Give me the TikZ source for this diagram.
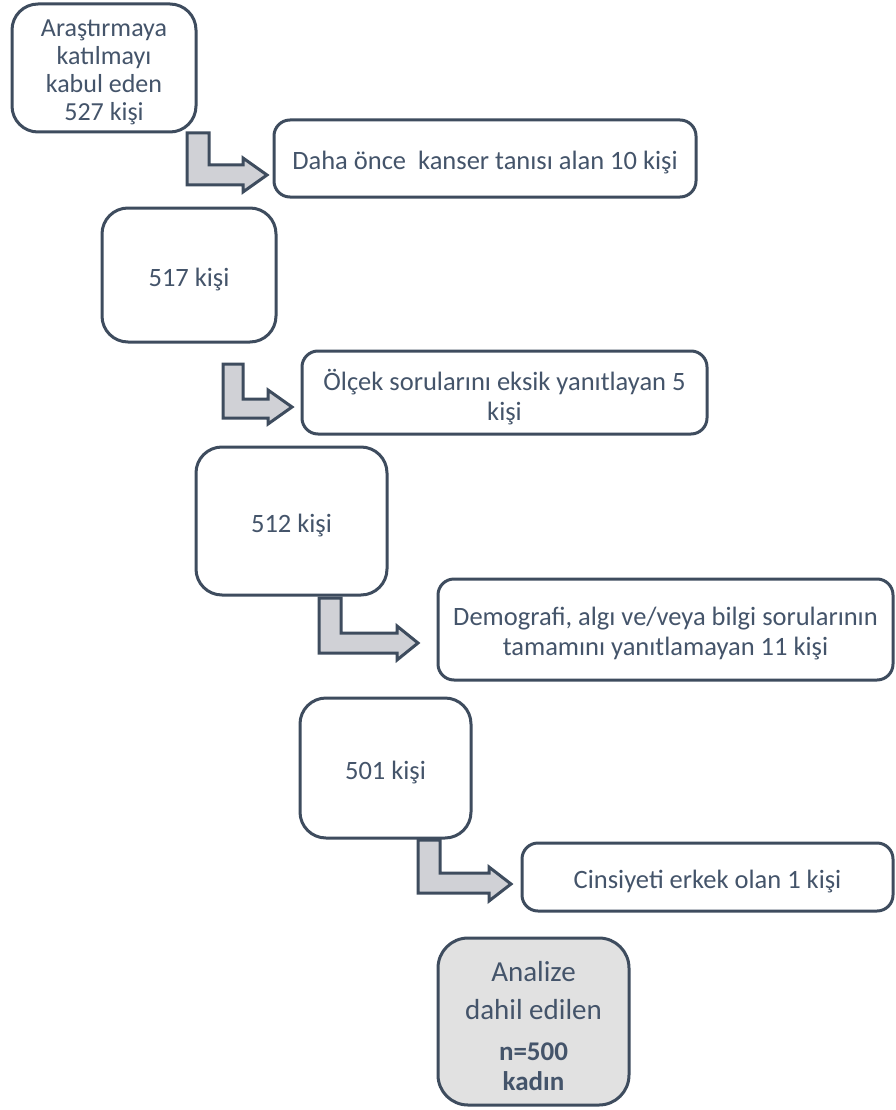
\documentclass[tikz,border=0pt]{standalone}
\usepackage{fontspec}
\setmainfont{Carlito}
\definecolor{edge}{HTML}{3E4C5E}
\definecolor{ink}{HTML}{44546A}
\definecolor{arrowfill}{HTML}{D0D1D6}
\definecolor{resultfill}{HTML}{E1E1E1}
\begin{document}
\begin{tikzpicture}[x=1pt,y=-1pt,
  box/.style={draw=edge, line width=3pt, rounded corners=#1, fill=white,
    inner sep=0pt},
  box/.default=16pt,
  % box text sits slightly below the geometric centre
  boxtext/.style={text=ink, align=center, inner sep=0pt, yshift=-4.5pt,
    font=\fontsize{26.5}{30}\selectfont},
  bentarrow/.style={draw=edge, fill=arrowfill, line width=3pt, line join=miter}]
\useasboundingbox (0,0) rectangle (895,1110);

% stages of the sample
\node[box=26pt, minimum width=184pt, minimum height=128pt,
      label={[boxtext, font=\fontsize{26}{28}\selectfont]center:Araştırmaya\\katılmayı\\kabul eden\\527 kişi}]
  (b1) at (104,68) {};
\node[box, minimum width=422pt, minimum height=77pt,
      label={[boxtext]center:Daha önce~ kanser tanısı alan 10 kişi}]
  (b2) at (485,158.5) {};
\node[box=26pt, minimum width=174pt, minimum height=134pt,
      label={[boxtext]center:517 kişi}]
  (b3) at (189,275) {};
\node[box, minimum width=405pt, minimum height=83pt,
      label={[boxtext]center:Ölçek sorularını eksik yanıtlayan 5\\kişi}]
  (b4) at (504.5,392.5) {};
\node[box=26pt, minimum width=191pt, minimum height=148pt,
      label={[boxtext]center:512 kişi}]
  (b5) at (291.5,521) {};
\node[box, minimum width=455pt, minimum height=101pt,
      label={[boxtext]center:Demografi, algı ve/veya bilgi sorularının\\tamamını yanıtlamayan 11 kişi}]
  (b6) at (665.5,629.5) {};
\node[box=26pt, minimum width=171pt, minimum height=140pt,
      label={[boxtext]center:501 kişi}]
  (b7) at (385.5,768) {};
\node[box, minimum width=371pt, minimum height=68pt,
      label={[boxtext]center:Cinsiyeti erkek olan 1 kişi}]
  (b8) at (707.5,877) {};
\node[box=30pt, fill=resultfill, minimum width=191pt, minimum height=167pt,
      label={[boxtext]center:{\fontsize{29}{30}\selectfont Analize}\\[8pt]
        {\fontsize{29}{30}\selectfont dahil edilen}\\[11pt]
        {\fontsize{27}{30}\selectfont\bfseries n=500}\\
        {\fontsize{27}{30}\selectfont\bfseries kadın}}]
  (b9) at (533.5,1021.5) {};

% bent block arrows leading to the excluded groups
\draw[bentarrow] (187,133) -- (209,133) -- (209,165) -- (243,165) -- (243,158)
  -- (267,175) -- (243,192) -- (243,185) -- (187,185) -- cycle;
\draw[bentarrow] (223,364) -- (243,364) -- (243,399) -- (268,399) -- (268,390)
  -- (292,407) -- (268,424) -- (268,418) -- (223,418) -- cycle;
\draw[bentarrow] (319,598) -- (341,598) -- (341,633) -- (397,633) -- (397,626)
  -- (418,643) -- (397,660) -- (397,653) -- (319,653) -- cycle;
\draw[bentarrow] (418,840) -- (440,840) -- (440,873) -- (489,873) -- (489,867)
  -- (511,884) -- (489,901) -- (489,893) -- (418,893) -- cycle;
\end{tikzpicture}
\end{document}
